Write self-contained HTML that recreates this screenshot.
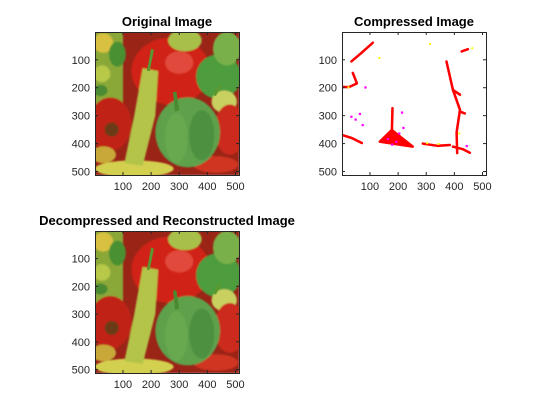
<!DOCTYPE html>
<html><head><meta charset="utf-8"><style>
html,body{margin:0;padding:0;background:#fff;width:560px;height:420px;overflow:hidden}
svg{display:block;font-family:"Liberation Sans",Arial,sans-serif}
</style></head><body>
<svg id="fig" width="560" height="420" viewBox="0 0 560 420" xmlns="http://www.w3.org/2000/svg">
<defs>
<filter id="soft"><feGaussianBlur stdDeviation="3"/></filter>
<g id="peppers">
 <rect x="0" y="0" width="512" height="512" fill="#9a2416"/>
 <g filter="url(#soft)">
 <rect x="0" y="0" width="100" height="260" fill="#8aa838"/>
 <ellipse cx="30" cy="40" rx="35" ry="35" fill="#d8c040"/>
 <ellipse cx="80" cy="80" rx="30" ry="45" fill="#4a9030"/>
 <ellipse cx="25" cy="150" rx="30" ry="30" fill="#b8c848"/>
 <ellipse cx="20" cy="210" rx="25" ry="20" fill="#4a8a30"/>
 <ellipse cx="270" cy="140" rx="140" ry="120" fill="#d02418"/>
 <ellipse cx="300" cy="110" rx="50" ry="40" fill="#e04a3a"/>
 <ellipse cx="320" cy="30" rx="60" ry="40" fill="#a8c048"/>
 <ellipse cx="440" cy="160" rx="80" ry="80" fill="#4e9c3c"/>
 <ellipse cx="470" cy="60" rx="50" ry="60" fill="#7ab048"/>
 <ellipse cx="460" cy="250" rx="45" ry="40" fill="#c8d060"/>
 <ellipse cx="55" cy="330" rx="75" ry="95" fill="#c02418"/>
 <ellipse cx="480" cy="350" rx="55" ry="90" fill="#cc2a1c"/>
 <ellipse cx="30" cy="440" rx="45" ry="30" fill="#c8a838"/>
 <ellipse cx="140" cy="490" rx="140" ry="30" fill="#d4d050"/>
 <ellipse cx="430" cy="475" rx="80" ry="30" fill="#d03420"/>
 <polygon points="170,130 225,140 215,300 170,480 105,470 140,300" fill="#b4c448"/>
 <ellipse cx="330" cy="360" rx="115" ry="125" fill="#5ea04c"/>
 <ellipse cx="290" cy="380" rx="40" ry="90" fill="#68a850"/>
 <ellipse cx="380" cy="370" rx="45" ry="90" fill="#4e9040"/>
 <ellipse cx="60" cy="350" rx="25" ry="25" fill="#6a3a18"/>
 </g>
 <polygon points="200,60 210,65 195,140 185,140" fill="#5a9830"/>
 <polygon points="278,215 290,215 300,280 285,285" fill="#4a8a30"/>
 <polygon points="440,190 450,195 430,230 420,225" fill="#5a9830"/>
</g>
</defs>
<g id="ax1"></g><g id="ax2"></g><g id="ax3"></g>
</svg>
<script>
const tickValues = [100, 200, 300, 400, 500];
const tickLabels = ["100", "200", "300", "400", "500"];
const imgSize = [512, 512];
const titles = ["Original Image", "Compressed Image", "Decompressed and Reconstructed Image"];
const blobLines = [
 [[34,106],[70,75],[110,39]],
 [[39,147],[53,183]],
 [[0,197],[25,198],[53,185]],
 [[0,369],[35,380],[71,398]],
 [[180,273],[178,351],[135,393],[252,411],[177,351]],
 [[288,400],[340,408],[384,405]],
 [[372,106],[395,208],[420,279],[408,360],[410,434]],
 [[395,411],[430,420],[455,433]],
 [[426,70],[448,62]],
 [[419,285],[437,292]],
 [[395,208],[420,225]]
];
const magentaPts = [[30,300],[45,310],[70,330],[60,290],[160,380],[190,390],[200,360],[175,400],[215,340],[210,285],[80,195],[440,405]];
const yellowPts = [[20,195],[130,90],[300,395],[340,398],[460,55],[414,360],[310,40]];

const NS = "http://www.w3.org/2000/svg";
function mk(tag, attrs, parent){const e=document.createElementNS(NS,tag);for(const k in attrs)e.setAttribute(k,attrs[k]);parent.appendChild(e);return e;}
const boxes = [{x:95,y:32,w:144,h:143},{x:342,y:32,w:144,h:143},{x:95,y:231,w:144,h:142}];

function drawAxes(g, b, title, kind){
  const sx = v => b.x + (v-0.5)/imgSize[0]*b.w;
  const sy = v => b.y + (v-0.5)/imgSize[1]*b.h;
  const inner = mk("svg",{x:b.x,y:b.y,width:b.w,height:b.h,viewBox:"0.5 0.5 512 512",preserveAspectRatio:"none"},g);
  
  
  if(kind==='c'){
    mk("rect",{x:0,y:0,width:513,height:513,fill:"#fff"},inner);
    blobLines.forEach(l=>{
      const p = mk("polyline",{points:l.map(q=>q[0]+","+q[1]).join(" "),fill:"none",stroke:"#ff0000","stroke-width":9,"stroke-linejoin":"round","stroke-linecap":"round"},inner);
      
      
    });
    mk("polygon",{points:"178,351 135,393 252,411",fill:"#ff0000"},inner);
    magentaPts.forEach(q=>{mk("rect",{x:q[0],y:q[1],width:8,height:8,fill:"#ff00ff"},inner);});
    yellowPts.forEach(q=>{mk("rect",{x:q[0],y:q[1],width:7,height:7,fill:"#ffff00"},inner);});
  } else {
    mk("use",{href:"#peppers"},inner);
  }
  const frame = mk("rect",{x:b.x+0.5,y:b.y+0.5,width:b.w,height:b.h,fill:"none",stroke:"#262626","stroke-width":1},g);
  
  
  tickValues.forEach((v,i)=>{
    const x=sx(v), y=sy(v);
    mk("line",{x1:x,y1:b.y+b.h,x2:x,y2:b.y+b.h-3,stroke:"#262626"},g);
    mk("line",{x1:x,y1:b.y,x2:x,y2:b.y+3,stroke:"#262626"},g);
    mk("line",{x1:b.x,y1:y,x2:b.x+3,y2:y,stroke:"#262626"},g);
    mk("line",{x1:b.x+b.w,y1:y,x2:b.x+b.w-3,y2:y,stroke:"#262626"},g);
    const tx = mk("text",{x:x,y:b.y+b.h+15,"text-anchor":"middle","font-size":11,fill:"#262626"},g);
    tx.textContent = tickLabels[i];
    
    
    const ty = mk("text",{x:b.x-5,y:y+4,"text-anchor":"end","font-size":11,fill:"#262626"},g);
    ty.textContent = tickLabels[i];
    
    
  });
  const t = mk("text",{x:b.x+b.w/2,y:b.y-6,"text-anchor":"middle","font-size":13,"font-weight":"bold",fill:"#000"},g);
  t.textContent = title;
  
  
}
["ax1","ax2","ax3"].forEach((id,i)=>{
  const g=document.getElementById(id);
  
  
  drawAxes(g, boxes[i], titles[i], i===1?'c':'p');
});
</script>
</body></html>
